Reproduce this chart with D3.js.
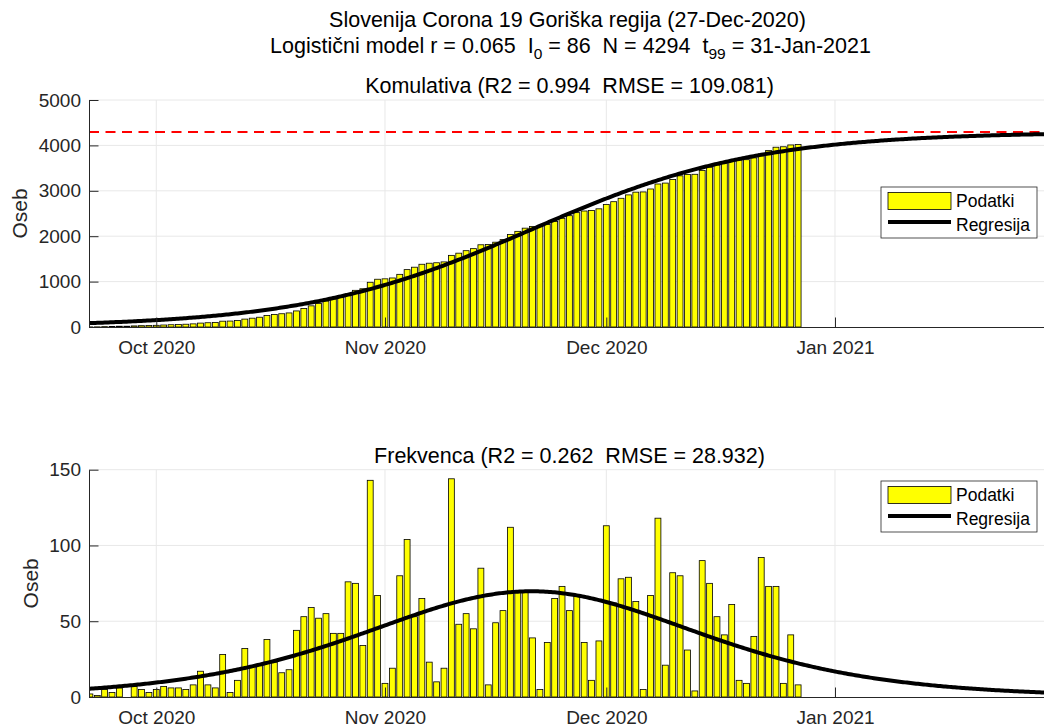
<!DOCTYPE html>
<html><head><meta charset="utf-8">
<script src="https://cdn.jsdelivr.net/npm/d3@7"></script>
<style>
body{margin:0;background:#fff;}
text{font-family:"Liberation Sans",Arial,Helvetica,sans-serif;}
</style></head><body><svg id="c" width="1044" height="727"></svg>
<script>
// ---------- data ----------
const firstDay = "2020-09-22";
const daily = [2,1,5,3,6,0,7,5,3,5,7,6,6,5,8,17,8,6,28,3,11,32,20,21,38,23,16,18,44,53,59,52,55,
  42,42,76,75,34,143,67,9,19,80,104,53,65,23,10,19,144,48,55,45,85,8,49,57,112,70,70,39,5,36,65,73,
  57,67,36,11,37,113,62,78,79,63,5,67,118,21,82,80,31,4,90,75,53,41,61,11,9,40,92,73,73,9,41,8];
const cumulative = [2,3,8,11,17,17,24,29,32,37,44,50,56,61,69,86,94,100,128,131,142,174,194,215,253,276,292,310,354,407,466,518,573,
  615,657,733,808,842,985,1052,1061,1080,1160,1264,1317,1382,1405,1415,1434,1578,1626,1681,1726,1811,1819,1868,1925,2037,2107,2177,2216,2221,2257,2322,2395,
  2452,2519,2555,2566,2603,2700,2760,2835,2910,2970,2975,3040,3150,3170,3250,3330,3360,3364,3450,3520,3570,3610,3665,3676,3685,3725,3815,3890,3960,3970,4010,4018];
const monthTicks = ["2020-10-01","2020-11-01","2020-12-01","2021-01-01"];
const cumTicks = [0,1000,2000,3000,4000,5000];
const freqTicks = [0,50,100,150];
const rateR = 0.065, startI0 = 86, capN = 4294;
const legendLabels = ["Podatki","Regresija"];
const title1 = "Slovenija Corona 19 Goriška regija (27-Dec-2020)";
const cumTitle = "Komulativa (R2 = 0.994  RMSE = 109.081)";
const freqTitle = "Frekvenca (R2 = 0.262  RMSE = 28.932)";
const yLabel = "Oseb";

// ---------- setup ----------
const svg = d3.select("#c");
const day0 = new Date(firstDay + "T00:00:00Z");
const dates = daily.map((_, i) => d3.utcDay.offset(day0, i));
const DAY = 86400000;
const oct1 = new Date("2020-10-01T00:00:00Z"), jan1 = new Date("2021-01-01T00:00:00Z");
const L = 89, R = 1044;
const x = d3.scaleUtc()
  .domain([new Date(+oct1 - 9.12 * DAY), new Date(+jan1 + 28.33 * DAY)])
  .range([L, R]);
const pxPerDay = x(new Date(+oct1 + DAY)) - x(oct1);
const barW = pxPerDay * 0.8;
const axisCol = "#262626", gridCol = "#e8e8e8";
const tickFont = 19;
const titleFont = "21.5px";

function logistic(t){ return capN / (1 + (capN / startI0 - 1) * Math.exp(-rateR * t)); }
function logisticRate(t){ const c = logistic(t); return rateR * c * (1 - c / capN); }
const tGrid = d3.range(-1, 131, 0.25);

function panel(id, top, bottom, yMax, ticks, values, curveFn, title, titleY, legendTop, extra){
  const y = d3.scaleLinear().domain([0, yMax]).range([bottom, top]);
  const g = svg.append("g");
  g.append("clipPath").attr("id", id).append("rect")
    .attr("x", L).attr("y", top - 3).attr("width", R - L).attr("height", bottom - top + 3);
  g.append("g").selectAll("line").data(ticks.slice(1)).join("line")
    .attr("x1", L).attr("x2", R).attr("y1", d => y(d)).attr("y2", d => y(d))
    .attr("stroke", gridCol).attr("stroke-width", 1);
  g.append("g").selectAll("line").data(monthTicks).join("line")
    .attr("x1", d => x(new Date(d + "T00:00:00Z"))).attr("x2", d => x(new Date(d + "T00:00:00Z")))
    .attr("y1", top).attr("y2", bottom)
    .attr("stroke", gridCol).attr("stroke-width", 1);
  const plot = g.append("g").attr("clip-path", `url(#${id})`);
  if (extra) extra(plot, y);
  plot.selectAll("rect.bar").data(values).join("rect").attr("class", "bar")
    .attr("x", (d, i) => x(dates[i]) - barW / 2).attr("width", barW)
    .attr("y", d => y(d)).attr("height", d => y(0) - y(d))
    .attr("fill", "#ffff00").attr("stroke", "#000").attr("stroke-width", 0.8);
  plot.append("path").datum(tGrid)
    .attr("d", d3.line().x(t => x(new Date(+day0 + t * DAY))).y(t => y(curveFn(t))))
    .attr("fill", "none").attr("stroke", "#000").attr("stroke-width", 4);
  const ya = g.append("g").attr("transform", `translate(${L},0)`)
    .call(d3.axisLeft(y).tickValues(ticks).tickFormat(d3.format("d")).tickSizeInner(-9.5).tickSizeOuter(0).tickPadding(8));
  const xa = g.append("g").attr("transform", `translate(0,${bottom})`)
    .call(d3.axisBottom(x).tickValues(monthTicks.map(d => new Date(d + "T00:00:00Z")))
      .tickFormat(d3.utcFormat("%b %Y")).tickSizeInner(-9.5).tickSizeOuter(0).tickPadding(13.5));
  [ya, xa].forEach(a => {
    a.select(".domain").attr("stroke", axisCol).attr("stroke-width", 1);
    a.selectAll(".tick line").attr("stroke", axisCol);
    a.selectAll("text").attr("fill", axisCol).style("font-size", tickFont + "px")
      .style("font-family", '"Liberation Sans",Arial,sans-serif');
  });
  const yMid = (top + bottom) / 2;
  const maxLab = d3.max(ticks, d => String(d).length);
  const lx = maxLab >= 4 ? 27 : 38;
  g.append("text").attr("transform", `translate(${lx},${yMid}) rotate(-90)`)
    .attr("text-anchor", "middle").attr("fill", axisCol).style("font-size", "21px").text(yLabel);
  g.append("text").attr("x", (L + R) / 2 + 3).attr("y", titleY).attr("text-anchor", "middle")
    .attr("fill", "#000").style("font-size", titleFont).style("white-space", "pre").text(title);
  const lg = g.append("g");
  lg.append("rect").attr("x", 881).attr("y", legendTop).attr("width", 156).attr("height", 51)
    .attr("fill", "#fff").attr("stroke", axisCol).attr("stroke-width", 0.8);
  lg.append("rect").attr("x", 888).attr("y", legendTop + 5.5).attr("width", 63).attr("height", 17)
    .attr("fill", "#ffff00").attr("stroke", "#000").attr("stroke-width", 0.8);
  lg.append("line").attr("x1", 888).attr("x2", 951).attr("y1", legendTop + 35).attr("y2", legendTop + 35)
    .attr("stroke", "#000").attr("stroke-width", 4);
  lg.selectAll("text").data(legendLabels).join("text")
    .attr("x", 956).attr("y", (d, i) => legendTop + 20 + i * 23.5)
    .attr("fill", "#000").style("font-size", "17.5px").text(d => d);
}

panel("clipTop", 100, 327, 5000, cumTicks, cumulative, logistic, cumTitle, 93, 187, (plot, y) => {
  plot.append("line").attr("x1", L).attr("x2", R).attr("y1", y(capN)).attr("y2", y(capN))
    .attr("stroke", "#ff0000").attr("stroke-width", 2).attr("stroke-dasharray", "10,6.5");
});
panel("clipBot", 469.7, 697, 150, freqTicks, daily, logisticRate, freqTitle, 463, 481, null);

svg.append("text").attr("x", (L + R) / 2 + 1).attr("y", 27).attr("text-anchor", "middle")
  .attr("fill", "#000").style("font-size", titleFont).text(title1);
const t2 = svg.append("text").attr("x", (L + R) / 2 + 4).attr("y", 53).attr("text-anchor", "middle")
  .attr("fill", "#000").style("font-size", titleFont).style("white-space", "pre");
t2.append("tspan").text("Logistični model r = " + rateR + "  I");
t2.append("tspan").attr("dy", 6).style("font-size", "15.5px").text("0");
t2.append("tspan").attr("dy", -6).text(" = " + startI0 + "  N = " + capN + "  t");
t2.append("tspan").attr("dy", 6).style("font-size", "15.5px").text("99");
t2.append("tspan").attr("dy", -6).text(" = 31-Jan-2021");
</script></body></html>
